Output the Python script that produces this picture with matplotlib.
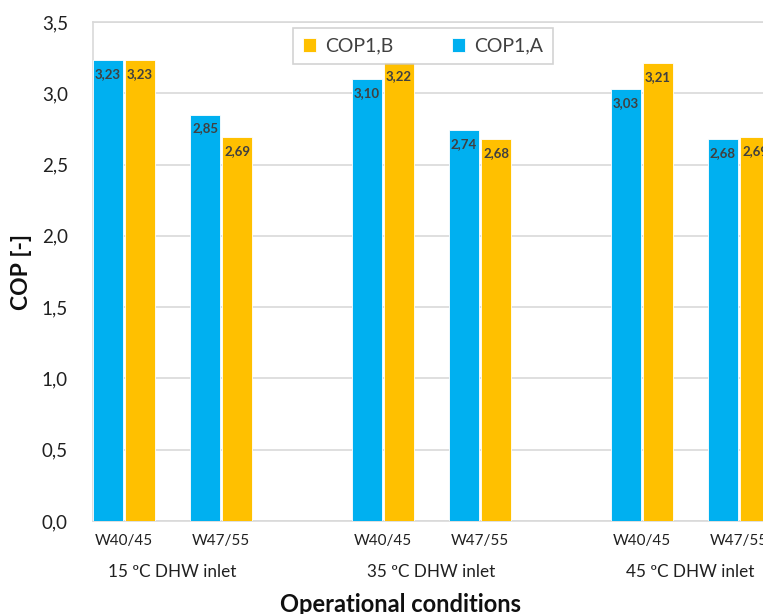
import numpy as np
import matplotlib
matplotlib.use("Agg")
import matplotlib.pyplot as plt
from matplotlib.transforms import blended_transform_factory

# =========================================
# Data
# =========================================

conditions = ["W40/45", "W47/55", "W40/45", "W47/55", "W40/45", "W47/55"]
groups = ["15 ºC DHW inlet", "35 ºC DHW inlet", "45 ºC DHW inlet"]
cop_a = [3.23, 2.85, 3.10, 2.74, 3.03, 2.68]
cop_b = [3.23, 2.69, 3.22, 2.68, 3.21, 2.69]
y_ticks = [0.0, 0.5, 1.0, 1.5, 2.0, 2.5, 3.0, 3.5]

BLUE = "#00B0F0"
ORANGE = "#FFC000"
TEXT = "#404040"

plt.rcParams["font.family"] = ["Lato", "DejaVu Sans"]


def fmt(v):
    return f"{v:.2f}".replace(".", ",")


def main() -> None:
    fig = plt.figure(figsize=(7.63, 6.14), dpi=100)
    W, H = 763, 614
    left, right, top, bottom = 93, 795, 22, 521
    ax = fig.add_axes([left / W, (H - bottom) / H, (right - left) / W, (bottom - top) / H])

    # pair centres, in "category" units
    x = np.array([0, 1, 2.67, 3.67, 5.34, 6.34])
    width = 0.31
    off = 0.165

    bars_a = ax.bar(x - off, cop_a, width, color=BLUE, edgecolor="white", linewidth=0.6,
                    label="COP1,A", zorder=3)
    bars_b = ax.bar(x + off, cop_b, width, color=ORANGE, edgecolor="white", linewidth=0.6,
                    label="COP1,B", zorder=3)

    for bars, vals in ((bars_a, cop_a), (bars_b, cop_b)):
        for b, v in zip(bars, vals):
            ax.text(b.get_x() + b.get_width() / 2, v - 0.055, fmt(v), ha="center", va="top",
                    fontsize=9.5, fontweight="bold", color=TEXT, zorder=4, clip_on=False)

    ax.set_xlim(-0.32, (right - 124) / 97)
    ax.set_ylim(0, 3.5)
    ax.set_yticks(y_ticks)
    ax.set_yticklabels([f"{t:.1f}".replace(".", ",") for t in y_ticks], fontsize=13.5, color="#202020")
    ax.set_xticks(x)
    ax.set_xticklabels(conditions, fontsize=11, color="#202020")
    ax.tick_params(axis="both", length=0)
    ax.tick_params(axis="y", pad=18)
    ax.tick_params(axis="x", pad=9)

    ax.grid(axis="y", color="#d9d9d9", linewidth=1.2, zorder=0)
    for s in ax.spines.values():
        s.set_color("#d9d9d9")
        s.set_linewidth(1.2)

    trans = blended_transform_factory(ax.transData, ax.transAxes)
    for i, g in enumerate(groups):
        cx = (x[2 * i] + x[2 * i + 1]) / 2
        ax.text(cx, -(572 - bottom) / (bottom - top), g, transform=trans, ha="center", va="center",
                fontsize=12.3, color="#202020", clip_on=False)

    fig.text(401 / W, 1 - 604 / H, "Operational conditions", ha="center", va="center",
             fontsize=17, fontweight="bold", color="#101010")
    fig.text(21 / W, 1 - 272 / H, "COP [-]", ha="center", va="center", rotation=90,
             fontsize=16.5, fontweight="bold", color="#101010")

    handles = [bars_b, bars_a]
    leg = ax.legend(handles, ["COP1,B", "COP1,A"], ncol=2, loc="center",
                    bbox_to_anchor=((423 - left) / (right - left), 1 - (46 - top) / (bottom - top)),
                    fontsize=14, frameon=True, fancybox=False, handlelength=0.7, handleheight=0.7,
                    handletextpad=0.45, columnspacing=3.0, borderpad=0.5, borderaxespad=0,
                    labelcolor="#404040")
    leg.get_frame().set_edgecolor("#c8c8c8")
    leg.get_frame().set_linewidth(1.2)

    fig.savefig("out.png", dpi=100)


if __name__ == "__main__":
    main()
